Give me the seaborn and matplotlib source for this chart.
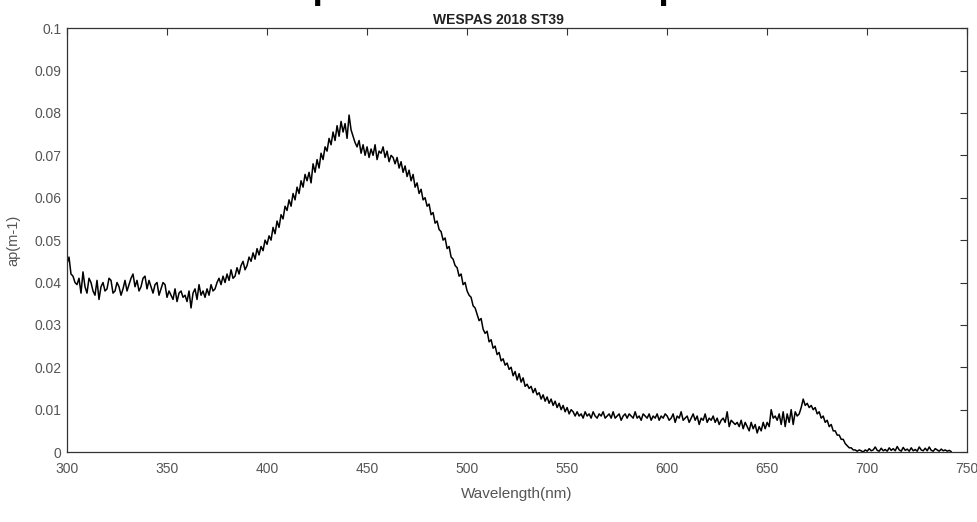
import numpy as np
import pandas as pd
import matplotlib.pyplot as plt
import seaborn as sns

sns.set_style("white")
plt.rcParams['font.family'] = ['Liberation Sans', 'DejaVu Sans']

# particulate absorption, values (units of 1e-3 m-1), 1 nm steps from 300 nm
wavelength = np.arange(300, 743)
ap_milli = [
    44.5, 46, 42, 41.5, 40, 39.5, 41, 37.5, 42.5, 39,
    37.5, 41, 40, 38, 37, 40.5, 36, 39, 40, 38,
    38.5, 41, 40.5, 37.5, 38, 40, 39, 37, 38.5, 40.5,
    38, 39.5, 41, 42, 39, 40.5, 38, 39, 41, 41.5,
    38.5, 40.5, 39, 37.5, 39.5, 40, 37, 38.5, 40, 39.5,
    36.5, 38, 37, 36, 38.5, 35.5, 37.5, 38, 36.5, 37,
    35.5, 38, 34, 37.5, 38.5, 36, 39.5, 37, 38, 36.5,
    38.5, 37, 39.5, 38, 38.5, 40, 41, 39.5, 41.5, 40,
    42, 40.5, 43, 41, 41.5, 43.5, 42, 44, 45, 43,
    44, 46, 45, 47, 45.5, 48, 46.5, 48.5, 47.5, 50,
    49, 51, 50, 53, 51.5, 54.5, 53, 56, 55, 58,
    57, 59.5, 58, 61, 59.5, 62.5, 61, 64, 62.5, 65.5,
    64, 66, 63.5, 68, 66, 69, 67, 70.5, 69, 72,
    71, 74, 72.5, 75.5, 73.5, 77, 74.5, 78, 75.5, 77.5,
    74, 79.5, 76, 74.5, 73, 72, 73.5, 70.5, 72.5, 70,
    72, 69.5, 71.5, 70, 72.5, 69, 71, 70.5, 72, 69.5,
    71, 68.5, 70, 69.5, 68, 69.5, 67, 68.5, 66, 67.5,
    65, 66.5, 64, 65.5, 62.5, 63.5, 61, 62, 59.5, 60,
    58, 58.5, 56, 56.5, 54, 54.5, 52.5, 52, 50, 50.5,
    48, 48.5, 46, 45.5, 44, 43.5, 41.5, 42, 39.5, 40,
    38, 37, 36.5, 34.5, 34, 32.5, 31, 31.5, 29, 28,
    28.5, 26, 26.5, 24.5, 25, 23, 23.5, 21.5, 22, 20.5,
    21, 19.5, 20, 18, 19, 17, 18.5, 16.5, 17.5, 15.5,
    16, 15, 15.5, 14, 15, 13.5, 14, 12.5, 13.5, 12,
    13, 11.5, 12.5, 11, 12, 10.5, 11.5, 10, 11, 9.5,
    10.5, 9, 10, 9.5, 8.5, 9.5, 8.5, 9, 8, 9.5,
    8.5, 9, 8, 9.5, 8.5, 8, 9, 8.5, 9.5, 8,
    8.5, 9, 8, 9.5, 8, 8.5, 9, 7.5, 8.5, 9,
    8, 9, 8.5, 8, 9.5, 8, 8.5, 7.5, 9, 8.5,
    8, 9, 7.5, 8.5, 8, 9, 7.5, 8.5, 8, 9,
    8.5, 7.5, 8, 9, 7, 8.5, 8, 9.5, 7.5, 8,
    8.5, 7, 8, 9, 7.5, 8.5, 6.5, 8, 7.5, 9,
    7, 8, 7.5, 8.5, 7, 8, 6.5, 7.5, 8, 7,
    9.5, 6, 7.5, 7, 6.5, 7, 6, 7.5, 5.5, 7,
    6, 5, 7, 5.5, 6.5, 4.5, 6, 5, 7, 5.5,
    7, 6, 10, 8, 8.5, 7.5, 9, 6.5, 9.5, 6,
    9, 7, 10, 6.5, 9.5, 8.5, 9, 10.5, 12.5, 11,
    11.5, 10.5, 11, 10, 10.5, 9, 9.5, 8, 8.5, 7,
    7.5, 6, 6.5, 5, 5, 4, 4, 3, 3, 2,
    1.5, 1, 1, 0.5, 0.5, 0.2, 0.5, 0.3, 0, 0.5,
    0.2, 0.8, 0.3, 0.5, 1.2, 0.4, 0.2, 0.9, 0.3, 0.6,
    0.2, 1, 0.4, 0.8, 0.3, 1.3, 0.5, 0.2, 1.1, 0.4,
    0.7, 0.2, 1, 0.3, 0.6, 0.2, 1.2, 0.5, 0.3, 0.9,
    0.3, 1.2, 0.4, 0.2, 0.8, 0.5, 0.2, 0.7, 0.3, 0.5,
    0.2, 0.4, 0.1,
]
x_ticks = [300, 350, 400, 450, 500, 550, 600, 650, 700, 750]
y_ticks = [0, 0.01, 0.02, 0.03, 0.04, 0.05, 0.06, 0.07, 0.08, 0.09, 0.1]
y_ticklabels = ['0', '0.01', '0.02', '0.03', '0.04', '0.05', '0.06', '0.07', '0.08', '0.09', '0.1']

df = pd.DataFrame({'Wavelength': wavelength, 'ap': np.array(ap_milli) / 1000.0})

fig = plt.figure(figsize=(9.78, 5.22), dpi=100)
ax = fig.add_axes([0.0685, 0.134, 0.9205, 0.812])
sns.lineplot(data=df, x='Wavelength', y='ap', color='black', lw=1.1, ax=ax)

ax.set_xlim(300, 750)
ax.set_ylim(0, 0.1)
ax.set_xticks(x_ticks)
ax.set_yticks(y_ticks)
ax.set_yticklabels(y_ticklabels)
gray = '#555555'
ax.tick_params(direction='in', length=5, width=0.8, colors='#333333', labelcolor=gray,
               labelsize=10, top=True, right=True)
ax.tick_params(axis='x', pad=7)
ax.tick_params(axis='y', pad=4)
for s in ax.spines.values():
    s.set_color('#333333')
    s.set_linewidth(0.9)
ax.set_xlabel('Wavelength(nm)', fontsize=11, color=gray, labelpad=8)
ax.set_ylabel('ap(m-1)', fontsize=10.5, color=gray, labelpad=10)
ax.set_title('WESPAS 2018 ST39', fontsize=10, fontweight='bold', color='#222222',
             x=0.479, pad=3)

# large title that is cropped off at the top of the image
fig.text(0.52, 1.0 + 2 / 522, 'Absorption coefficient of particles', fontsize=27,
         fontweight='bold', ha='center', va='baseline', color='black')

fig.savefig('out.png', dpi=100)
